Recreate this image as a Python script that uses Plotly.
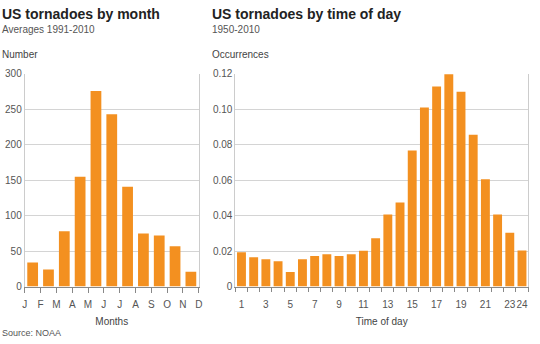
import plotly.graph_objects as go

# Data
month_labels = ["J", "F", "M", "A", "M", "J", "J", "A", "S", "O", "N", "D"]
month_values = [34, 24, 78, 155, 276, 243, 141, 75, 72, 57, 21]

hours = list(range(1, 25))
hour_values = [0.0194, 0.0165, 0.0154, 0.0143, 0.0082, 0.0154, 0.0172, 0.0183,
               0.0172, 0.0183, 0.0202, 0.0273, 0.0407, 0.0475, 0.0768, 0.1011,
               0.1129, 0.1198, 0.1099, 0.0857, 0.0606, 0.0407, 0.0304, 0.0203]
hour_tick_labels = [h for h in hours if h % 2 == 1] + [24]

left_yticks = [0, 50, 100, 150, 200, 250, 300]
right_yticks = [0, 0.02, 0.04, 0.06, 0.08, 0.10, 0.12]
right_ytext = ["0", "0.02", "0.04", "0.06", "0.08", "0.10", "0.12"]

BAR = "#F39020"
FONT = "Liberation Sans, Arial, sans-serif"
TICKC = "#555555"

W, H = 540, 344

fig = go.Figure()
fig.add_trace(go.Bar(x=[i + 0.5 for i in range(len(month_values))], y=month_values,
                     marker=dict(color=BAR, line=dict(width=0)), width=0.68,
                     xaxis="x", yaxis="y", hoverinfo="y"))
fig.add_trace(go.Bar(x=[h - 0.5 for h in hours], y=hour_values,
                     marker=dict(color=BAR, line=dict(width=0)), width=0.73,
                     xaxis="x2", yaxis="y2", hoverinfo="y"))

ydom = [1 - 290 / H, 1 - 71 / H]
tickfont = dict(family=FONT, size=10, color=TICKC)
titlefont = dict(family=FONT, size=10, color="#444444")

fig.update_layout(
    width=W, height=H,
    margin=dict(l=0, r=0, t=0, b=0),
    paper_bgcolor="white", plot_bgcolor="white",
    showlegend=False,
    font=dict(family=FONT),
    xaxis=dict(domain=[23 / W, 199 / W], range=[0, len(month_values)],
               tickmode="array", tickvals=list(range(len(month_labels))),
               ticktext=month_labels, ticks="outside", ticklen=5, tickcolor="#888888",
               showline=True, linecolor="#888888", linewidth=1, showgrid=False,
               zeroline=False, tickfont=tickfont, tickangle=0, ticklabelstandoff=3,
               title=dict(text="Months", font=titlefont, standoff=9),
               fixedrange=True),
    yaxis=dict(domain=ydom, range=[0, 300], tickmode="array", tickvals=left_yticks,
               showgrid=True, gridcolor="#D4D4D4", gridwidth=1, zeroline=False,
               showline=True, linecolor="#CCCCCC", mirror=True, ticks="", tickfont=tickfont,
               anchor="x", fixedrange=True),
    xaxis2=dict(domain=[236 / W, 532 / W], range=[0, 24], anchor="y2",
                tickmode="array", tickvals=[h - 0.5 for h in hour_tick_labels],
                ticktext=[str(h) for h in hour_tick_labels], ticks="", tickangle=0,
                ticklabelstandoff=8,
                minor=dict(ticks="outside", tick0=0, dtick=1, ticklen=4, tickcolor="#888888", showgrid=False),
                showline=True, linecolor="#888888", linewidth=1, showgrid=False,
                zeroline=False, tickfont=tickfont,
                title=dict(text="Time of day", font=titlefont, standoff=9),
                fixedrange=True),
    yaxis2=dict(domain=ydom, range=[0, 0.12], tickmode="array", tickvals=right_yticks,
                ticktext=right_ytext, anchor="x2",
                showgrid=True, gridcolor="#D4D4D4", gridwidth=1, zeroline=False,
                showline=True, linecolor="#CCCCCC", mirror=True, ticks="", tickfont=tickfont,
                fixedrange=True),
)

def ann(x, y, text, size, color, bold=False):
    fig.add_annotation(x=x / W, y=1 - y / H, xref="paper", yref="paper",
                       xanchor="left", yanchor="middle", showarrow=False,
                       text=f"<b>{text}</b>" if bold else text,
                       font=dict(family=FONT, size=size, color=color))

ann(-2, 9, "US tornadoes by month", 14, "#222222", bold=True)
ann(-2, 25, "Averages 1991-2010", 10, "#555555")
ann(-2, 51, "Number", 10, "#444444")
ann(210, 9, "US tornadoes by time of day", 14, "#222222", bold=True)
ann(210, 25, "1950-2010", 10, "#555555")
ann(210, 51, "Occurrences", 10, "#444444")
ann(-2, 338, "Source: NOAA", 9, "#555555")

fig.write_html("out.html")
